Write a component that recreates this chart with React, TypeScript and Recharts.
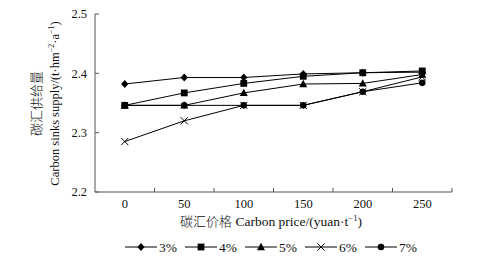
import { LineChart, Line, XAxis, YAxis, Legend } from 'recharts';

const prices = [0, 50, 100, 150, 200, 250];
const rate3 = [2.382, 2.393, 2.393, 2.399, 2.401, 2.402];
const rate4 = [2.346, 2.367, 2.383, 2.395, 2.401, 2.404];
const rate5 = [2.346, 2.346, 2.367, 2.382, 2.383, 2.398];
const rate6 = [2.285, 2.32, 2.346, 2.346, 2.369, 2.394];
const rate7 = [2.346, 2.346, 2.346, 2.346, 2.369, 2.384];
const yTicks = [2.2, 2.3, 2.4, 2.5];

const series = [
  { key: 'r3', name: '3%', values: rate3, shape: 'diamond' },
  { key: 'r4', name: '4%', values: rate4, shape: 'square' },
  { key: 'r5', name: '5%', values: rate5, shape: 'triangle' },
  { key: 'r6', name: '6%', values: rate6, shape: 'cross' },
  { key: 'r7', name: '7%', values: rate7, shape: 'circle' },
];

const data = prices.map((price, i) => {
  const row: Record<string, number> = { price };
  series.forEach((s) => {
    row[s.key] = s.values[i];
  });
  return row;
});

const W = 481;
const H = 264;
const LEFT = 95;
const RIGHT = 29;
const TOP = 14;
const XAXIS_H = 72;
const HALF_BAND = (W - LEFT - RIGHT) / prices.length / 2;
const FONT = "'Liberation Serif', 'Noto Sans CJK SC', serif";
const AXIS = '#555';
const textStyle = { fontFamily: FONT, fontSize: 12.5, fill: '#111' };
const cjkStyle = { fontSize: 13, fontWeight: 300 };

function marker(shape: string, cx: number, cy: number) {
  switch (shape) {
    case 'diamond':
      return <path d={`M${cx},${cy - 4}L${cx + 3.6},${cy}L${cx},${cy + 4}L${cx - 3.6},${cy}Z`} fill="#000" />;
    case 'square':
      return <rect x={cx - 3.4} y={cy - 3.4} width={6.8} height={6.8} fill="#000" />;
    case 'triangle':
      return <path d={`M${cx},${cy - 4.2}L${cx + 4},${cy + 3.2}L${cx - 4},${cy + 3.2}Z`} fill="#000" />;
    case 'cross':
      return (
        <path
          d={`M${cx - 3.6},${cy - 3.6}L${cx + 3.6},${cy + 3.6}M${cx + 3.6},${cy - 3.6}L${cx - 3.6},${cy + 3.6}`}
          stroke="#000"
          strokeWidth={1}
          fill="none"
        />
      );
    default:
      return <circle cx={cx} cy={cy} r={3.3} fill="#000" />;
  }
}

const XTick = (props: any) => {
  const { x, y, payload } = props;
  return (
    <g>
      <line x1={x + HALF_BAND} y1={y} x2={x + HALF_BAND} y2={y - 4} stroke={AXIS} />
      <text x={x} y={y + 16} textAnchor="middle" style={textStyle}>
        {payload.value}
      </text>
    </g>
  );
};

const YTick = (props: any) => {
  const { x, y, payload } = props;
  return (
    <g>
      <line x1={x} y1={y} x2={x + 4} y2={y} stroke={AXIS} />
      <text x={x - 8} y={y + 4.3} textAnchor="end" style={textStyle}>
        {payload.value.toFixed(1)}
      </text>
    </g>
  );
};

const YLabel = () => {
  const cy = TOP + 89.5;
  return (
    <g>
      <text x={41} y={cy} transform={`rotate(-90 41 ${cy})`} textAnchor="middle" style={{ ...textStyle, ...cjkStyle }}>
        碳汇供给量
      </text>
      <text x={59} y={cy} transform={`rotate(-90 59 ${cy})`} textAnchor="middle" style={textStyle}>
        Carbon sinks supply/(t·hm
        <tspan fontSize={8} dy={-5}>−2</tspan>
        <tspan dy={5}>·a</tspan>
        <tspan fontSize={8} dy={-5}>−1</tspan>
        <tspan dy={5}>)</tspan>
      </text>
    </g>
  );
};

const XLabel = () => (
  <text x={271} y={226} textAnchor="middle" style={{ ...textStyle, fontSize: 13.5 }}>
    <tspan style={cjkStyle}>碳汇价格</tspan> Carbon price/(yuan·t
    <tspan fontSize={8.5} dy={-5}>−1</tspan>
    <tspan dy={5}>)</tspan>
  </text>
);

const LegendContent = () => (
  <svg width={W} height={20} style={{ display: 'block' }}>
    {series.map((s, i) => {
      const x0 = 125 + i * 60;
      return (
        <g key={s.key}>
          <line x1={x0} y1={10} x2={x0 + 32} y2={10} stroke="#000" strokeWidth={1} />
          {marker(s.shape, x0 + 16, 10)}
          <text x={x0 + 34} y={14.5} style={{ ...textStyle, fontSize: 13.5 }}>
            {s.name}
          </text>
        </g>
      );
    })}
  </svg>
);

export default function App() {
  return (
    <div style={{ position: 'absolute', left: 0, top: 0, width: W, height: H, background: '#fff' }}>
      <LineChart width={W} height={H} data={data} margin={{ top: TOP, right: RIGHT, left: 0, bottom: 0 }}>
        <XAxis
          dataKey="price"
          type="category"
          height={XAXIS_H}
          padding={{ left: HALF_BAND, right: HALF_BAND }}
          axisLine={{ stroke: AXIS }}
          tickLine={false}
          tickSize={0}
          tickMargin={0}
          tick={<XTick />}
          interval={0}
          label={{ content: () => <XLabel /> }}
        />
        <YAxis
          width={LEFT}
          domain={[2.2, 2.5]}
          ticks={yTicks}
          axisLine={{ stroke: AXIS }}
          tickLine={false}
          tickSize={0}
          tickMargin={0}
          tick={<YTick />}
          label={{ content: () => <YLabel /> }}
        />
        <Legend
          verticalAlign="middle"
          align="center"
          layout="horizontal"
          content={() => <LegendContent />}
          wrapperStyle={{ top: 237, left: 0, width: W, height: 20 }}
        />
        {[...series].reverse().map((s) => (
          <Line
            key={s.key}
            dataKey={s.key}
            name={s.name}
            stroke="#000"
            strokeWidth={1}
            isAnimationActive={false}
            activeDot={false}
            dot={(p: any) => <g key={`${s.key}-${p.index}`}>{marker(s.shape, p.cx, p.cy)}</g>}
          />
        ))}
      </LineChart>
    </div>
  );
}
